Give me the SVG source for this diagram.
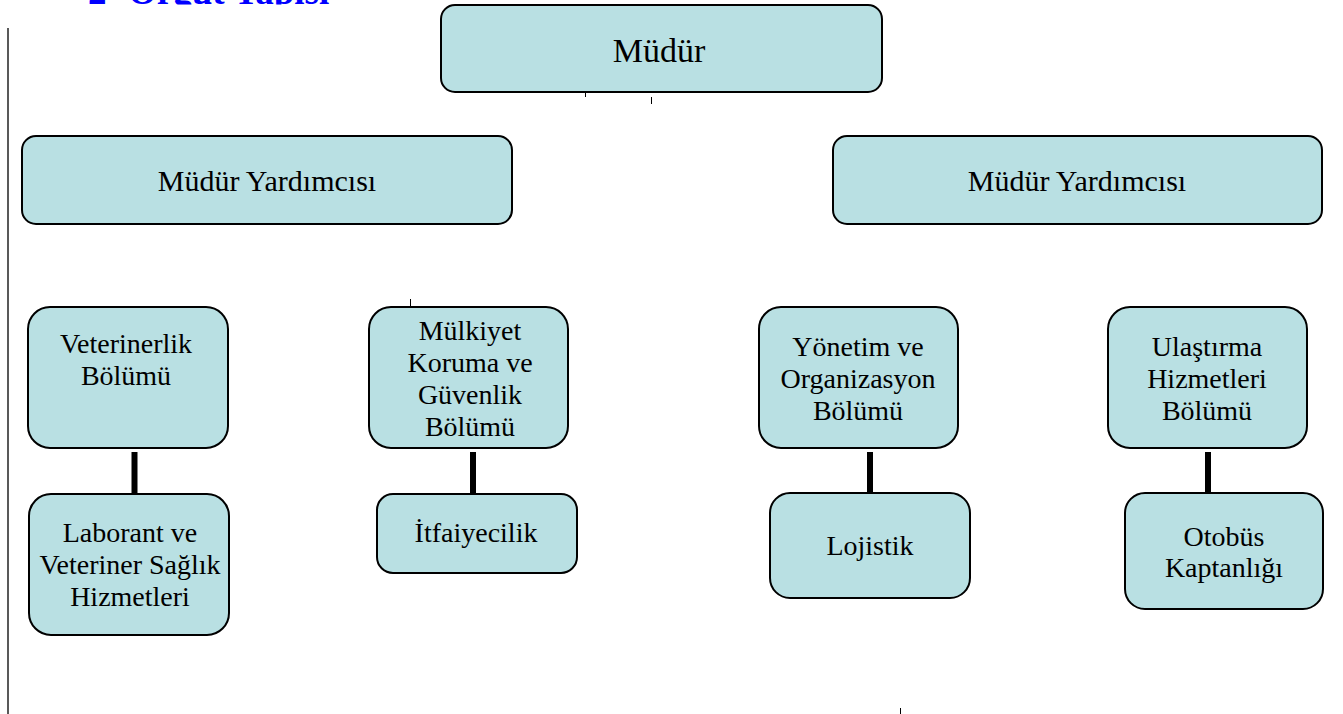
<svg xmlns="http://www.w3.org/2000/svg" width="1343" height="714" viewBox="0 0 1343 714">
<style>
.box{fill:#B9E0E3;stroke:#000;stroke-width:2}
.t{font-family:"Liberation Serif","Times New Roman",serif;fill:#000;text-anchor:middle}
.t28{font-size:28px}
.t30{font-size:30px}
.t34{font-size:34px}
.conn{stroke:#000;stroke-width:6;fill:none}
.tick{stroke:#000;stroke-width:1;fill:none}
.title{font-family:"Liberation Serif","Times New Roman",serif;font-weight:bold;font-size:37px;fill:#0000FF}
</style>
<defs>
<clipPath id="titleClip"><rect x="0" y="0" width="500" height="4.5"/></clipPath>
</defs>
<rect width="1343" height="714" fill="#fff"/>
<g id="title" clip-path="url(#titleClip)">
<text class="title" x="88" y="4">2- Örgüt Yapısı</text>
</g>
<line x1="8" y1="28" x2="8" y2="714" stroke="#222" stroke-width="1.5"/>
<g id="ticks">
<line class="tick" x1="585.5" y1="93" x2="585.5" y2="97"/>
<line class="tick" x1="651.5" y1="97" x2="651.5" y2="104"/>
<line class="tick" x1="410.5" y1="299" x2="410.5" y2="306"/>
<line class="tick" x1="900.5" y1="708" x2="900.5" y2="714"/>
</g>
<g id="connectors">
<line class="conn" x1="134.5" y1="452" x2="134.5" y2="494"/>
<line class="conn" x1="473" y1="452" x2="473" y2="494"/>
<line class="conn" x1="870" y1="452" x2="870" y2="493"/>
<line class="conn" x1="1208" y1="452" x2="1208" y2="493"/>
</g>
<g id="mudur">
<rect class="box" x="441" y="5" width="441" height="87" rx="14"/>
<text class="t t34" x="659" y="62">Müdür</text>
</g>
<g id="yardimci-sol">
<rect class="box" x="22" y="136" width="490" height="88" rx="14"/>
<text class="t t30" x="267" y="191">Müdür Yardımcısı</text>
</g>
<g id="yardimci-sag">
<rect class="box" x="833" y="136" width="489" height="88" rx="14"/>
<text class="t t30" x="1077" y="191">Müdür Yardımcısı</text>
</g>
<g id="veterinerlik">
<rect class="box" x="28" y="307" width="200" height="141" rx="22"/>
<text class="t t28" x="126" y="353">Veterinerlik</text>
<text class="t t28" x="126" y="385">Bölümü</text>
</g>
<g id="mulkiyet">
<rect class="box" x="369" y="307" width="199" height="141" rx="22"/>
<text class="t t28" x="470" y="340">Mülkiyet</text>
<text class="t t28" x="470" y="372">Koruma ve</text>
<text class="t t28" x="470" y="404">Güvenlik</text>
<text class="t t28" x="470" y="436">Bölümü</text>
</g>
<g id="yonetim">
<rect class="box" x="759" y="307" width="199" height="141" rx="22"/>
<text class="t t28" x="858" y="356">Yönetim ve</text>
<text class="t t28" x="858" y="388">Organizasyon</text>
<text class="t t28" x="858" y="420">Bölümü</text>
</g>
<g id="ulastirma">
<rect class="box" x="1108" y="307" width="199" height="141" rx="22"/>
<text class="t t28" x="1207" y="356">Ulaştırma</text>
<text class="t t28" x="1207" y="388">Hizmetleri</text>
<text class="t t28" x="1207" y="420">Bölümü</text>
</g>
<g id="laborant">
<rect class="box" x="29" y="494" width="200" height="141" rx="22"/>
<text class="t t28" x="130" y="542">Laborant ve</text>
<text class="t t28" x="130" y="574">Veteriner Sağlık</text>
<text class="t t28" x="130" y="606">Hizmetleri</text>
</g>
<g id="itfaiyecilik">
<rect class="box" x="377" y="494" width="200" height="79" rx="16"/>
<text class="t t28" x="476" y="542">İtfaiyecilik</text>
</g>
<g id="lojistik">
<rect class="box" x="770" y="493" width="200" height="105" rx="20"/>
<text class="t t28" x="870" y="555">Lojistik</text>
</g>
<g id="otobus">
<rect class="box" x="1125" y="493" width="198" height="116" rx="20"/>
<text class="t t28" x="1224" y="546">Otobüs</text>
<text class="t t28" x="1224" y="577">Kaptanlığı</text>
</g>
</svg>
